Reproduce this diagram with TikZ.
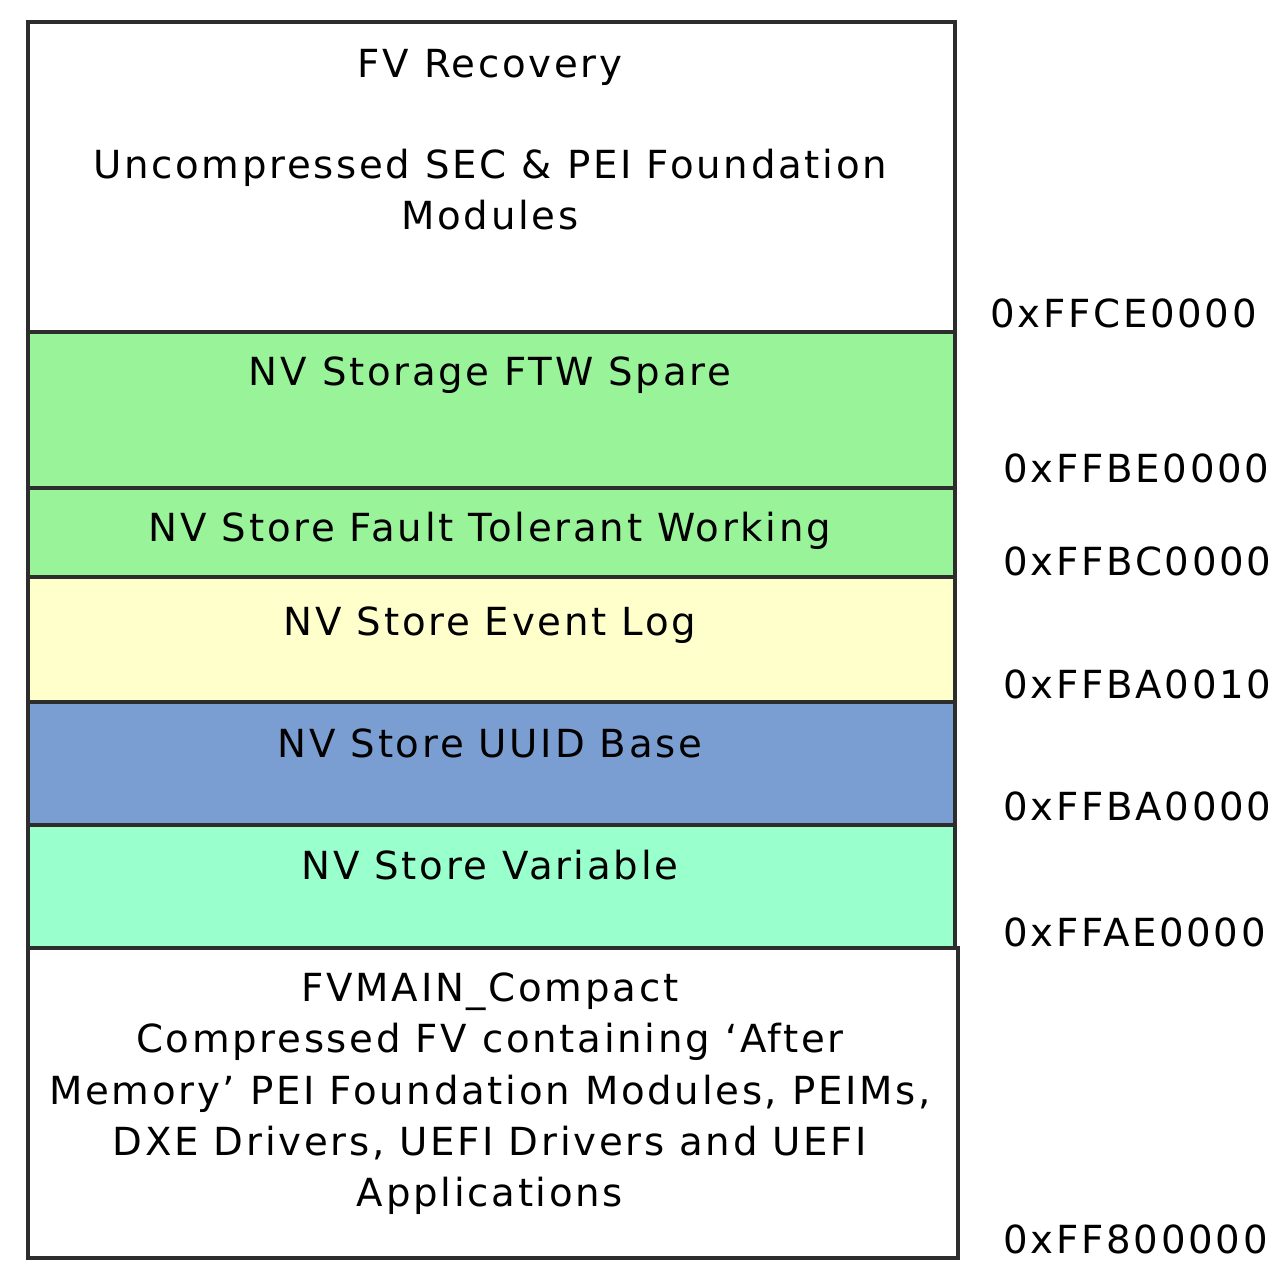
\documentclass[tikz,border=0pt]{standalone}
\usepackage{fontspec}
\setmainfont{DejaVu Sans}[LetterSpace=7]
\usepackage{tikz}

\definecolor{ftwgreen}{RGB}{153,243,153}
\definecolor{logyellow}{RGB}{255,255,204}
\definecolor{uuidblue}{RGB}{123,158,210}
\definecolor{varaqua}{RGB}{153,255,204}
\definecolor{edgegray}{RGB}{45,45,45}

\begin{document}
\begin{tikzpicture}[line cap=rect,line join=miter,x=0.01cm,y=-0.01cm,
  region/.style={draw=edgegray,line width=1pt},
  lbl/.style={inner sep=0pt,font=\fontsize{11}{14.6}\selectfont},
  addr/.style={inner sep=0pt,anchor=base west,font=\fontsize{11}{14.6}\selectfont}]
\useasboundingbox (0,0) rectangle (1283,1281);

% flash regions
\draw [region,fill=white] (28,22) rectangle (955,332);
\draw [region,fill=ftwgreen] (28,332) rectangle (955,488);
\draw [region,fill=ftwgreen] (28,488) rectangle (955,577);
\draw [region,fill=logyellow] (28,577) rectangle (955,702);
\draw [region,fill=uuidblue] (28,702) rectangle (955,825);
\draw [region,fill=varaqua] (28,825) rectangle (955,948);
\draw [region,fill=white] (28,948) rectangle (958,1258);

% region names
\node [lbl,anchor=base] (recovery) at (490,77) {FV Recovery};
\node [lbl,anchor=north,align=center] (secpei) at (490,148) {Uncompressed SEC \& PEI Foundation\\Modules};
\node [lbl,anchor=base] (spare) at (490,385) {NV Storage FTW Spare};
\node [lbl,anchor=base] (working) at (490,541) {NV Store Fault Tolerant Working};
\node [lbl,anchor=base] (eventlog) at (490,635) {NV Store Event Log};
\node [lbl,anchor=base] (uuid) at (490,757) {NV Store UUID Base};
\node [lbl,anchor=base] (variable) at (490,879) {NV Store Variable};
\node [lbl,anchor=north,align=center] (fvmain) at (490,972) {FVMAIN\_Compact\\Compressed FV containing ‘After\\Memory’ PEI Foundation Modules, PEIMs,\\DXE Drivers, UEFI Drivers and UEFI\\Applications};

% addresses
\node [addr] (a1) at (990,327) {0xFFCE0000};
\node [addr] (a2) at (1003,482) {0xFFBE0000};
\node [addr] (a3) at (1003,575) {0xFFBC0000};
\node [addr] (a4) at (1003,698) {0xFFBA0010};
\node [addr] (a5) at (1003,820) {0xFFBA0000};
\node [addr] (a6) at (1003,946) {0xFFAE0000};
\node [addr] (a7) at (1003,1253) {0xFF800000};
\end{tikzpicture}
\end{document}
